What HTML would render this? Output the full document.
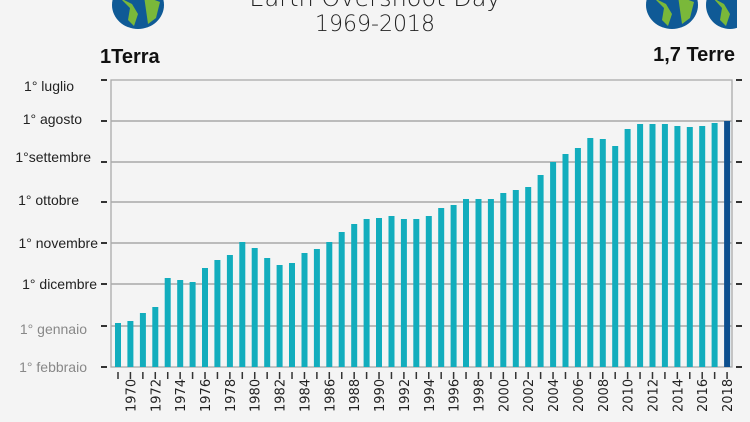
<!DOCTYPE html>
<html><head><meta charset="utf-8"><style>
html,body{margin:0;padding:0;background:#f4f4f4;}
svg{display:block;font-family:"Liberation Sans",sans-serif;}
</style></head><body>
<svg width="750" height="422" viewBox="0 0 750 422" xmlns="http://www.w3.org/2000/svg">
<rect width="750" height="422" fill="#f4f4f4"/>
<g>
<ellipse cx="138" cy="5" rx="26" ry="24" fill="#0f5a96"/>
<path d="M120 -2 L130 8 L128 20 L134 26 L138 14 L132 4 Z" fill="#7ab83a"/>
<path d="M144 -4 L160 2 L156 18 L148 24 L146 10 Z" fill="#7ab83a"/>
<ellipse cx="672" cy="5" rx="26" ry="24" fill="#0f5a96"/>
<path d="M654 -2 L664 8 L662 20 L668 26 L672 14 L666 4 Z" fill="#7ab83a"/>
<path d="M678 -4 L694 2 L690 18 L682 24 L680 10 Z" fill="#7ab83a"/>
<ellipse cx="730" cy="5" rx="24" ry="24" fill="#0f5a96"/>
<path d="M713 -2 L722 8 L720 20 L726 26 L730 14 L724 4 Z" fill="#7ab83a"/>
<rect x="737" y="-5" width="20" height="40" fill="#f4f4f4"/>
</g>
<text x="375" y="6" text-anchor="middle" font-size="24" fill="#222" font-family="DejaVu Sans, sans-serif" font-weight="300">Earth Overshoot Day</text>
<text x="375" y="31" text-anchor="middle" font-size="22" fill="#222" font-family="DejaVu Sans, sans-serif" font-weight="300">1969-2018</text>
<text x="100" y="63" font-size="20" font-weight="bold" fill="#111">1Terra</text>
<text x="735" y="61" text-anchor="end" font-size="20" font-weight="bold" fill="#111">1,7 Terre</text>
<g stroke="#999" stroke-width="1.3">
<line x1="111" y1="121" x2="732" y2="121"/>
<line x1="111" y1="162" x2="732" y2="162"/>
<line x1="111" y1="202" x2="732" y2="202"/>
<line x1="111" y1="243" x2="732" y2="243"/>
<line x1="111" y1="284" x2="732" y2="284"/>
<line x1="111" y1="326" x2="732" y2="326"/>
</g>
<rect x="111" y="80" width="621" height="287" fill="none" stroke="#aaa" stroke-width="1.3"/>
<g stroke="#333" stroke-width="2">
<line x1="101" y1="80" x2="107" y2="80"/><line x1="101" y1="121" x2="107" y2="121"/>
<line x1="101" y1="162" x2="107" y2="162"/><line x1="101" y1="202" x2="107" y2="202"/>
<line x1="101" y1="243" x2="107" y2="243"/><line x1="101" y1="284" x2="107" y2="284"/>
<line x1="101" y1="326" x2="107" y2="326"/><line x1="101" y1="367" x2="107" y2="367"/>
<line x1="736" y1="80" x2="742" y2="80"/><line x1="736" y1="121" x2="742" y2="121"/>
<line x1="736" y1="162" x2="742" y2="162"/><line x1="736" y1="202" x2="742" y2="202"/>
<line x1="736" y1="243" x2="742" y2="243"/><line x1="736" y1="284" x2="742" y2="284"/>
<line x1="736" y1="326" x2="742" y2="326"/><line x1="736" y1="367" x2="742" y2="367"/>
</g>
<g font-size="14" fill="#222" text-anchor="end">
<text x="74" y="91">1° luglio</text>
<text x="82" y="124">1° agosto</text>
<text x="91" y="162">1°settembre</text>
<text x="79" y="205">1° ottobre</text>
<text x="98" y="248">1° novembre</text>
<text x="97" y="289">1° dicembre</text>
<text x="87" y="334" fill="#888">1° gennaio</text>
<text x="87" y="372" fill="#888">1° febbraio</text>
</g>
<g fill="#12adbd">
<rect x="115" y="323" width="6" height="44"/>
<rect x="127.4" y="321" width="6" height="46"/>
<rect x="139.9" y="313" width="6" height="54"/>
<rect x="152.3" y="307" width="6" height="60"/>
<rect x="164.7" y="278" width="6" height="89"/>
<rect x="177.2" y="280" width="6" height="87"/>
<rect x="189.6" y="282" width="6" height="85"/>
<rect x="202" y="268" width="6" height="99"/>
<rect x="214.4" y="260" width="6" height="107"/>
<rect x="226.9" y="255" width="6" height="112"/>
<rect x="239.3" y="242" width="6" height="125"/>
<rect x="251.7" y="248" width="6" height="119"/>
<rect x="264.2" y="258" width="6" height="109"/>
<rect x="276.6" y="265" width="6" height="102"/>
<rect x="289" y="263" width="6" height="104"/>
<rect x="301.5" y="253" width="6" height="114"/>
<rect x="313.9" y="249" width="6" height="118"/>
<rect x="326.3" y="242" width="6" height="125"/>
<rect x="338.7" y="232" width="6" height="135"/>
<rect x="351.2" y="224" width="6" height="143"/>
<rect x="363.6" y="219" width="6" height="148"/>
<rect x="376" y="218" width="6" height="149"/>
<rect x="388.5" y="216" width="6" height="151"/>
<rect x="400.9" y="219" width="6" height="148"/>
<rect x="413.3" y="219" width="6" height="148"/>
<rect x="425.8" y="216" width="6" height="151"/>
<rect x="438.2" y="208" width="6" height="159"/>
<rect x="450.6" y="205" width="6" height="162"/>
<rect x="463" y="199" width="6" height="168"/>
<rect x="475.5" y="199" width="6" height="168"/>
<rect x="487.9" y="199" width="6" height="168"/>
<rect x="500.3" y="193" width="6" height="174"/>
<rect x="512.8" y="190" width="6" height="177"/>
<rect x="525.2" y="187" width="6" height="180"/>
<rect x="537.6" y="175" width="6" height="192"/>
<rect x="550.1" y="162" width="6" height="205"/>
<rect x="562.5" y="154" width="6" height="213"/>
<rect x="574.9" y="148" width="6" height="219"/>
<rect x="587.3" y="138" width="6" height="229"/>
<rect x="599.8" y="139" width="6" height="228"/>
<rect x="612.2" y="146" width="6" height="221"/>
<rect x="624.6" y="129" width="6" height="238"/>
<rect x="637.1" y="124" width="6" height="243"/>
<rect x="649.5" y="124" width="6" height="243"/>
<rect x="661.9" y="124" width="6" height="243"/>
<rect x="674.4" y="126" width="6" height="241"/>
<rect x="686.8" y="127" width="6" height="240"/>
<rect x="699.2" y="126" width="6" height="241"/>
<rect x="711.6" y="123" width="6" height="244"/>
<rect x="724.1" y="121" width="6" height="246" fill="#0d4f8e"/>
</g>
<line x1="117.25" y1="375.5" x2="729" y2="375.5" stroke="#333" stroke-width="7" stroke-dasharray="1.5 10.93"/>
<g font-size="13" fill="#222" font-family="DejaVu Sans, sans-serif">
<text transform="translate(135.4,412) rotate(-90)">1970</text>
<text transform="translate(160.3,412) rotate(-90)">1972</text>
<text transform="translate(185.2,412) rotate(-90)">1974</text>
<text transform="translate(210,412) rotate(-90)">1976</text>
<text transform="translate(234.9,412) rotate(-90)">1978</text>
<text transform="translate(259.7,412) rotate(-90)">1980</text>
<text transform="translate(284.6,412) rotate(-90)">1982</text>
<text transform="translate(309.5,412) rotate(-90)">1984</text>
<text transform="translate(334.3,412) rotate(-90)">1986</text>
<text transform="translate(359.2,412) rotate(-90)">1988</text>
<text transform="translate(384,412) rotate(-90)">1990</text>
<text transform="translate(408.9,412) rotate(-90)">1992</text>
<text transform="translate(433.8,412) rotate(-90)">1994</text>
<text transform="translate(458.6,412) rotate(-90)">1996</text>
<text transform="translate(483.5,412) rotate(-90)">1998</text>
<text transform="translate(508.3,412) rotate(-90)">2000</text>
<text transform="translate(533.2,412) rotate(-90)">2002</text>
<text transform="translate(558.1,412) rotate(-90)">2004</text>
<text transform="translate(582.9,412) rotate(-90)">2006</text>
<text transform="translate(607.8,412) rotate(-90)">2008</text>
<text transform="translate(632.6,412) rotate(-90)">2010</text>
<text transform="translate(657.5,412) rotate(-90)">2012</text>
<text transform="translate(682.4,412) rotate(-90)">2014</text>
<text transform="translate(707.2,412) rotate(-90)">2016</text>
<text transform="translate(732.1,412) rotate(-90)">2018</text>
</g>
</svg>
</body></html>
